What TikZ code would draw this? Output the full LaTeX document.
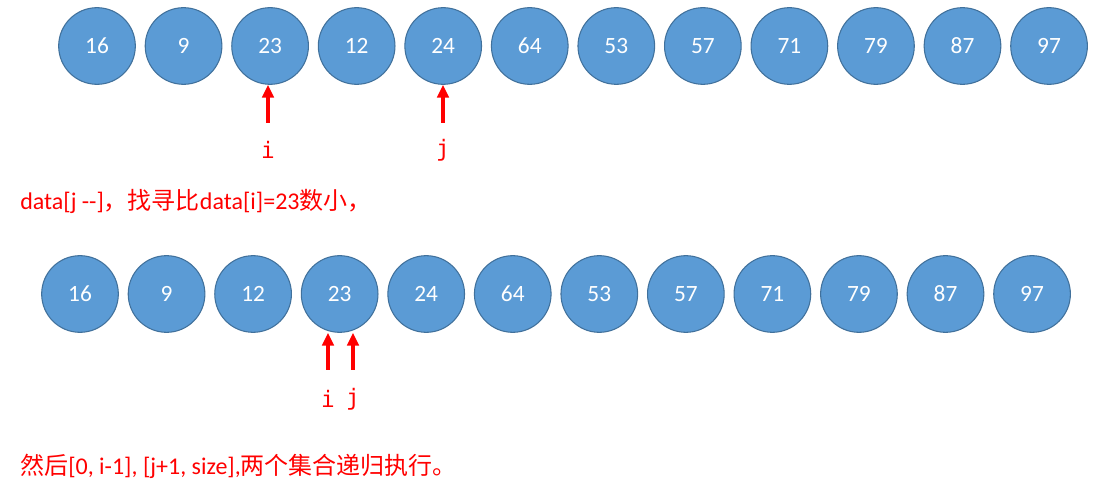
\documentclass[tikz,border=0pt]{standalone}
\usepackage{fontspec}
\setmainfont{Carlito}
\newfontfamily\cjk{Noto Sans CJK SC}
\newfontfamily\monofnt{DejaVu Sans Mono}
\usepackage{tikz}
\usetikzlibrary{arrows.meta,positioning}
\definecolor{ballfill}{HTML}{5B9BD5}
\definecolor{balledge}{HTML}{41719C}

\begin{document}
\begin{tikzpicture}[x=0.75pt, y=-0.75pt,
    ball/.style={draw=balledge, fill=ballfill, circle, line width=0.8pt, minimum size=57.5pt, inner sep=0pt, text=white, font=\fontsize{17.5}{20}\selectfont},
    ptr/.style={-{Triangle[width=8.5pt,length=9.5pt]}, red, line width=3pt},
    idx/.style={text=red, font=\monofnt\fontsize{17}{20}\selectfont},
    note/.style={text=red, anchor=base west, inner sep=0pt, font=\fontsize{18}{21}\selectfont}]
    \useasboundingbox (0,0) rectangle (1100,495);

    % before partition
    \foreach \v [count=\k] in {16,9,23,12,24,64,53,57,71,79,87,97}
        \node[ball] (top\k) at ({97+86.55*(\k-1)},46) {\v};
    % after partition
    \foreach \v [count=\k] in {16,9,12,23,24,64,53,57,71,79,87,97}
        \node[ball] (bot\k) at ({80+86.55*(\k-1)},294) {\v};

    \node[idx] (ia) at (268,150) {i};
    \node[idx] (ja) at (443,150) {j};
    \coordinate (ita) at (268,123);
    \coordinate (jta) at (443,123);
    \draw[ptr] (ita) -- (ita |- top3.south);
    \draw[ptr] (jta) -- (jta |- top5.south);

    \node[note] (msga) at (20,210) {data[j -{}-]{\cjk ，找寻比}data[i]=23{\cjk 数小，}};

    \node[idx] (ib) at (328,399) {i};
    \node[idx] (jb) at (353,399) {j};
    \coordinate (itb) at (328,370);
    \coordinate (jtb) at (353,370);
    \draw[ptr] (itb) -- (itb |- bot4.south);
    \draw[ptr] (jtb) -- (jtb |- bot4.south);

    \node[note] (msgb) at (20,474) {{\cjk 然后}[0, i-1], [j+1, size],{\cjk 两个集合递归执行。}};
\end{tikzpicture}
\end{document}
